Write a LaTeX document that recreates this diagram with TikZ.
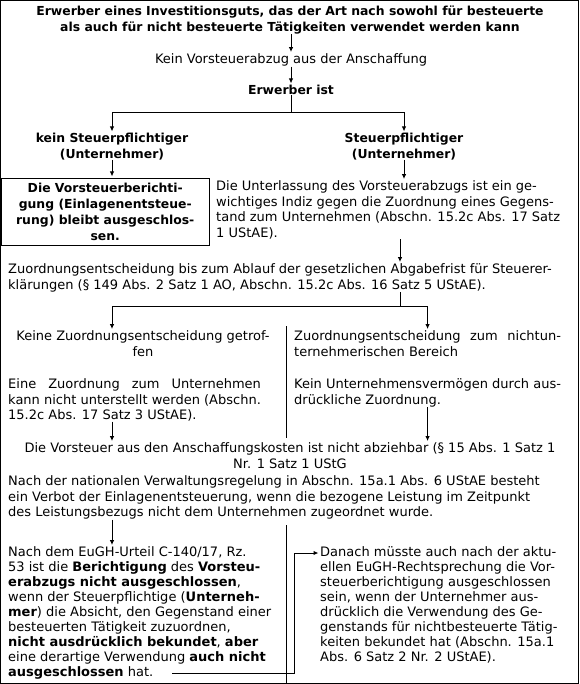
\documentclass[tikz,border=0pt]{standalone}
\usepackage{fontspec}
\setmainfont{DejaVu Sans}
\usetikzlibrary{arrows.meta, positioning}

\newlength{\linksbreite}
\newlength{\rechtsbreite}
\settowidth{\linksbreite}{\fontsize{13}{15.5}\selectfont kann nicht unterstellt werden (Abschn.}
\settowidth{\rechtsbreite}{\fontsize{13}{15.5}\selectfont Kein Unternehmensvermögen durch aus-}

\begin{document}
\begin{tikzpicture}[
        x=1pt, y=-1pt,
        every node/.style={font=\fontsize{13}{15.5}\selectfont, inner sep=0pt},
        ttl/.style={font=\fontsize{12.4}{15.5}\selectfont\bfseries, align=center, anchor=north},
        txt/.style={align=left, anchor=north west},
        eng/.style={font=\fontsize{13}{15}\selectfont},
        mitte/.style={align=center, anchor=north},
        rahmen/.style={draw, line width=1pt},
        arr/.style={-{Latex[length=5pt, width=4.5pt]}, line width=1pt, shorten >=1.5pt},
        lin/.style={line width=1pt}
    ]
        \useasboundingbox (0,0) rectangle (579,684);
        \draw[rahmen] (0.5,0.5) rectangle (578.5,683.5);

        \node[ttl] (titel) at (290,6) {Erwerber eines Investitionsguts, das der Art nach sowohl für besteuerte\\als auch für nicht besteuerte Tätigkeiten verwendet werden kann};
        \node[mitte] (kva) at (291,53.6) {Kein Vorsteuerabzug aus der Anschaffung};
        \node[ttl] (erw) at (291,85) {Erwerber ist};
        \node[ttl] (ksp) at (112,133) {kein Steuerpflichtiger\\(Unternehmer)};
        \node[ttl] (sp) at (404,133) {Steuerpflichtiger\\(Unternehmer)};
        \node[ttl, font=\fontsize{12.4}{16}\selectfont\bfseries, rahmen, anchor=north west, minimum width=208.5, minimum height=67] (ausg) at (0.5,178) {Die Vorsteuerberichti-\\gung (Einlagenentsteue-\\rung) bleibt ausgeschlos-\\sen.};
        \node[txt] (unterl) at (216,180.6) {Die Unterlassung des Vorsteuerabzugs ist ein ge-\\wichtiges Indiz gegen die Zuordnung eines Gegens-\\tand zum Unternehmen (Abschn. 15.2c Abs. 17 Satz\\1 UStAE).};
        \node[txt] (zuord) at (8,263.6) {Zuordnungsentscheidung bis zum Ablauf der gesetzlichen Abgabefrist für Steuerer-\\klärungen (§ 149 Abs. 2 Satz 1 AO, Abschn. 15.2c Abs. 16 Satz 5 UStAE).};
        \node[mitte] (keine) at (143,330.6) {Keine Zuordnungsentscheidung getrof-\\fen};
        \node[txt] (nichtu) at (294,330.6) {\makebox[\rechtsbreite][s]{Zuordnungsentscheidung zum nichtun-}\\ternehmerischen Bereich};
        \node[txt] (eine) at (8,378.6) {\makebox[\linksbreite][s]{Eine Zuordnung zum Unternehmen}\\kann nicht unterstellt werden (Abschn.\\15.2c Abs. 17 Satz 3 UStAE).};
        \node[txt] (kuv) at (294,378.6) {Kein Unternehmensvermögen durch aus-\\drückliche Zuordnung.};
        \node[mitte] (vst) at (290,442.6) {Die Vorsteuer aus den Anschaffungskosten ist nicht abziehbar (§ 15 Abs. 1 Satz 1\\Nr. 1 Satz 1 UStG};
        \node[txt] (verbot) at (8,475.6) {Nach der nationalen Verwaltungsregelung in Abschn. 15a.1 Abs. 6 UStAE besteht\\ein Verbot der Einlagenentsteuerung, wenn die bezogene Leistung im Zeitpunkt\\des Leistungsbezugs nicht dem Unternehmen zugeordnet wurde.};
        \node[txt, eng] (eugh) at (8,546.6) {Nach dem EuGH-Urteil C-140/17, Rz.\\53 ist die \textbf{Berichtigung} des \textbf{Vorsteu-}\\\textbf{erabzugs nicht ausgeschlossen},\\wenn der Steuerpflichtige (\textbf{Unterneh-}\\\textbf{mer}) die Absicht, den Gegenstand einer\\besteuerten Tätigkeit zuzuordnen,\\\textbf{nicht ausdrücklich bekundet}, \textbf{aber}\\eine derartige Verwendung \textbf{auch nicht}\\\textbf{ausgeschlossen} hat.};
        \node[txt, eng] (danach) at (320,546.6) {Danach müsste auch nach der aktu-\\ellen EuGH-Rechtsprechung die Vor-\\steuerberichtigung ausgeschlossen\\sein, wenn der Unternehmer aus-\\drücklich die Verwendung des Ge-\\genstands für nichtbesteuerte Tätig-\\keiten bekundet hat (Abschn. 15a.1\\Abs. 6 Satz 2 Nr. 2 UStAE).};

        % Verzweigungen
        \coordinate (gabel1) at (291,113);
        \coordinate (gabel2) at (400,306);
        \coordinate (knick) at (294,553);
        \coordinate (hatende) at (172,673);

        \draw[arr] (titel.south -| kva) -- (kva);
        \draw[arr] (kva) -- (erw);
        \draw[lin] (erw) -- (gabel1);
        \draw[arr] (gabel1) -| (ksp);
        \draw[arr] (gabel1) -| (sp);
        \draw[arr] (ksp.south) -- (ksp.south |- ausg.north);
        \draw[arr] (sp.south) -- (sp.south |- unterl.north);
        \draw[arr] (unterl.south -| gabel2) -- (zuord.north -| gabel2);
        \draw[lin] (zuord.south -| gabel2) -- (gabel2);
        \draw[arr] (gabel2) -| (ksp |- keine.north);
        \draw[arr] (gabel2) -| (nichtu.north);
        \draw[arr] (eine.south -| ksp) -- (vst.north -| ksp);
        \draw[arr] (kuv.south -| nichtu) -- (vst.north -| nichtu);
        \draw[arr] (verbot.south -| ksp) -- (eugh.north -| ksp);
        \draw[arr] (hatende) -| (knick) -- (knick -| danach.west);

        % Trennlinien
        \draw[lin] (286,326) -- (286,438);
        \draw[lin] (286,525) -- (286,684);
    \end{tikzpicture}
\end{document}
